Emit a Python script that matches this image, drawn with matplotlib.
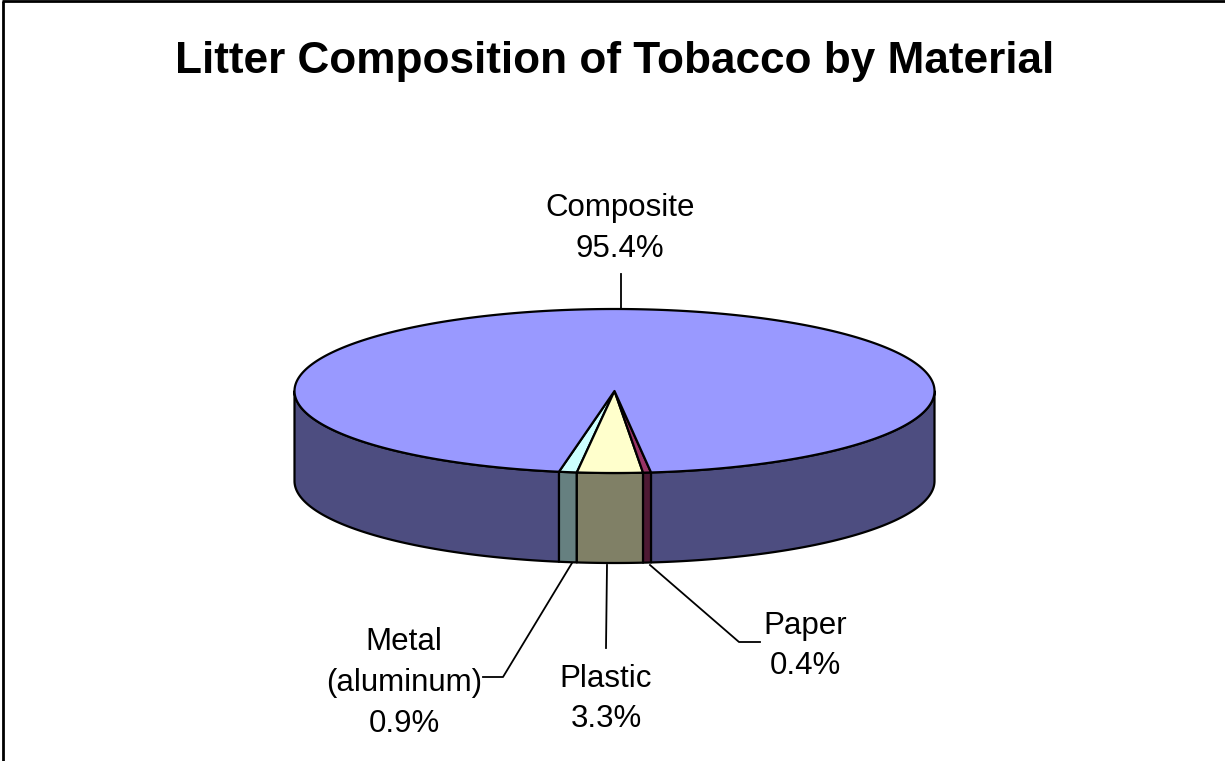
import numpy as np
import matplotlib
matplotlib.use('Agg')
import matplotlib.pyplot as plt
from matplotlib.patches import Polygon

plt.rcParams['font.family'] = ['Liberation Sans', 'DejaVu Sans']

# Data, clockwise on screen starting with the metal slice
labels = ['Metal\n(aluminum)', 'Plastic', 'Paper', 'Composite']
shares = [0.9, 3.3, 0.4, 95.4]
top_colors = ['#CCFFFF', '#FFFFCC', '#993366', '#9999FF']
side_colors = ['#668080', '#808066', '#4D1933', '#4D4D80']

title = 'Litter Composition of Tobacco by Material'


def arc(t1, t2, cx, cy, rx, ry):
    # t in degrees, measured with y going down the screen
    t = np.radians(np.linspace(t1, t2, max(int(abs(t2 - t1) * 2), 2)))
    return np.column_stack([cx + rx * np.cos(t), cy + ry * np.sin(t)])


def create_pie():
    fig = plt.figure(figsize=(12.25, 7.61), dpi=100)
    ax = fig.add_axes([0, 0, 1, 1])
    ax.set_xlim(0, 1225)
    ax.set_ylim(761, 0)
    ax.axis('off')

    cx, cy = 614.5, 391
    rx, ry = 320, 82
    depth = 90
    lw = 1.6

    # Slice boundaries, going anticlockwise on screen from the metal slice
    start = 100
    ends = start - np.cumsum(shares) * 3.6
    starts = np.concatenate([[start], ends[:-1]])

    # Side walls, only the part facing the viewer (0..180 deg on the screen)
    for t1, t2, color in zip(starts, ends, side_colors):
        for shift in (0, 360):
            a = max(t2 + shift, 0)
            b = min(t1 + shift, 180)
            if b <= a:
                continue
            upper = arc(a, b, cx, cy, rx, ry)
            lower = arc(b, a, cx, cy + depth, rx, ry)
            ax.add_patch(Polygon(np.vstack([upper, lower]), closed=True, facecolor=color,
                                 edgecolor='black', linewidth=lw, joinstyle='round', zorder=2))

    # Top faces
    for t1, t2, color in zip(starts, ends, top_colors):
        pts = np.vstack([[[cx, cy]], arc(t1, t2, cx, cy, rx, ry)])
        ax.add_patch(Polygon(pts, closed=True, facecolor=color, edgecolor='black',
                             linewidth=lw, joinstyle='round', zorder=3))

    # Leader lines
    ax.plot([620.5, 620.5], [274, 309], color='black', lw=1.3, zorder=1)
    ax.plot([572, 503, 483], [563, 677, 677], color='black', lw=1.3, zorder=1)
    ax.plot([607, 606], [565, 648], color='black', lw=1.3, zorder=1)
    ax.plot([650, 739, 760], [565, 642, 642], color='black', lw=1.3, zorder=1)

    # Labels
    fs = 22.5
    pos = [(404, 683), (606, 699), (805, 646), (620, 228.5)]
    for lab, val, (x, y) in zip(labels, shares, pos):
        ax.text(x, y, f'{lab}\n{val:.1f}%', fontsize=fs, ha='center', va='center',
                linespacing=1.47, color='black')

    ax.text(614.5, 62, title, fontsize=31.8, fontweight='bold', ha='center', va='center',
            color='black')

    # Chart frame, cut off at the right and bottom of the picture
    ax.plot([3, 3], [761, 1], color='black', lw=2, solid_capstyle='butt', zorder=5)
    ax.plot([2, 1225], [1, 1], color='black', lw=2, solid_capstyle='butt', zorder=5)

    fig.savefig('out.png', dpi=100, facecolor='white')


if __name__ == '__main__':
    create_pie()
